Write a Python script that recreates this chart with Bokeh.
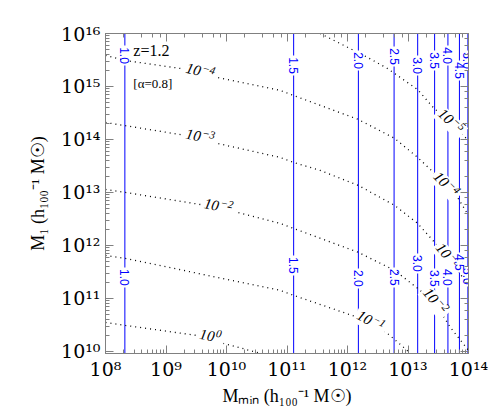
import math
import numpy as np
from bokeh.plotting import figure
from bokeh.models import LogAxis, Range1d, CustomJSTickFormatter
from bokeh.core.properties import value
from bokeh.embed import file_html
from bokeh.resources import INLINE

# ---------------- data ----------------
# vertical lines: log10(Mmin) and their labels
mmin_log = [8.32, 11.11, 12.18, 12.77, 13.16, 13.44, 13.66, 13.85, 13.99]
mmin_labels = ["1.0", "1.5", "2.0", "2.5", "3.0", "3.5", "4.0", "4.5", "5.0"]
mmin_label_hi_log = [15.585, 15.396, 15.491, 15.566, 15.396, 15.491, 15.585, 15.302, 15.491]
mmin_label_lo_log = [11.396, 11.623, 11.377, 11.396, 11.660, 11.377, 11.396, 11.679, 11.415]

# dotted contours: log10(Mmin), log10(M1)
c5_logx = [11.55, 12.33, 12.66, 13.16, 13.42, 13.70, 14.0]
c5_logy = [16.0, 15.55, 15.34, 14.94, 14.60, 14.32, 13.98]
c4_logx = [8.0, 8.33, 9.24, 9.57, 9.85, 10.89, 11.11, 12.18, 12.78, 13.16, 13.44, 13.62, 13.82, 14.0]
c4_logy = [15.585, 15.49, 15.34, 15.26, 15.17, 14.925, 14.83, 14.377, 14.02, 13.66, 13.358, 13.13, 12.906, 12.566]
c3_logx = [8.0, 8.33, 9.57, 9.85, 10.89, 11.11, 11.55, 12.18, 12.78, 13.16, 13.44, 13.65, 13.82, 14.0]
c3_logy = [14.32, 14.26, 14.03, 13.925, 13.66, 13.566, 13.415, 13.132, 12.755, 12.415, 12.057, 11.774, 11.528, 11.245]
c2_logx = [8.0, 8.33, 9.87, 10.89, 11.11, 12.18, 12.78, 13.16, 13.44, 13.70, 14.0]
c2_logy = [13.057, 13.0, 12.717, 12.415, 12.321, 11.868, 11.528, 11.189, 10.925, 10.453, 10.019]
c1_logx = [8.0, 8.33, 10.89, 11.11, 12.17, 12.38, 12.66, 12.93, 13.04]
c1_logy = [11.811, 11.755, 11.151, 11.057, 10.642, 10.547, 10.34, 10.075, 9.962]
c0_logx = [8.0, 8.33, 9.74, 9.95, 10.51, 10.6]
c0_logy = [10.547, 10.49, 10.264, 10.15, 9.98, 9.92]

curve_exps = ["−5", "−4", "−3", "−2", "−1", "0"]
curve_xs = [c5_logx, c4_logx, c3_logx, c2_logx, c1_logx, c0_logx]
curve_ys = [c5_logy, c4_logy, c3_logy, c2_logy, c1_logy, c0_logy]
curve_label_idx = [[5], [3, 11], [2, 11], [2, 8], [5], [2]]

X_LOG = (8.0, 14.0)
Y_LOG = (9.96, 16.0)

SERIF = "Liberation Serif"

# ---------------- figure ----------------
FW, FH = 363, 320
p = figure(x_axis_type="log", y_axis_type="log",
           x_range=Range1d(10 ** X_LOG[0], 10 ** X_LOG[1]),
           y_range=Range1d(10 ** Y_LOG[0], 10 ** Y_LOG[1]),
           frame_width=FW, frame_height=FH,
           min_border_left=105, min_border_top=33, min_border_right=20, min_border_bottom=0,
           output_backend="svg", toolbar_location=None)
p.grid.visible = False
p.outline_line_color = None
p.background_fill_color = "white"

fmt = CustomJSTickFormatter(code="""
const sup = {"0":"⁰","1":"¹","2":"²","3":"³","4":"⁴","5":"⁵","6":"⁶","7":"⁷","8":"⁸","9":"⁹","-":"⁻"};
const e = Math.round(Math.log10(tick));
return "10" + String(e).split("").map(c => sup[c]).join("");
""")

AX = "#808080"
def style(ax, labels=True):
    ax.major_tick_in = 8
    ax.major_tick_out = 0
    ax.minor_tick_in = 4
    ax.minor_tick_out = 0
    ax.axis_line_color = AX
    ax.major_tick_line_color = AX
    ax.minor_tick_line_color = AX
    if labels:
        ax.major_label_text_font = "DejaVu Serif"
        ax.major_label_text_font_size = "19px"
        ax.major_label_text_color = "black"
        ax.formatter = fmt
        ax.axis_label_text_font = SERIF
        ax.axis_label_text_font_size = "18px"
        ax.axis_label_text_font_style = "normal"
        ax.axis_label_text_color = "black"
    else:
        ax.major_label_text_color = None
        ax.major_label_standoff = 0

style(p.xaxis[0])
style(p.yaxis[0])
p.xaxis[0].axis_label = "Mₘᵢₙ (h₁₀₀⁻¹ M☉)"
p.yaxis[0].axis_label = "M₁ (h₁₀₀⁻¹ M☉)"
p.xaxis[0].major_label_standoff = 4
p.yaxis[0].major_label_standoff = 5
p.xaxis[0].axis_label_standoff = 3
p.yaxis[0].axis_label_standoff = 10

top_ax = LogAxis()
right_ax = LogAxis()
style(top_ax, labels=False)
style(right_ax, labels=False)
p.add_layout(top_ax, "above")
p.add_layout(right_ax, "right")

pxdx = FW / (X_LOG[1] - X_LOG[0])
pxdy = FH / (Y_LOG[1] - Y_LOG[0])

# vertical lines
mx = [10 ** v for v in mmin_log]
p.segment(x0=mx, x1=mx, y0=[10 ** Y_LOG[0]] * len(mx), y1=[10 ** Y_LOG[1]] * len(mx),
          line_color="blue", line_width=1)

# dotted contours with labels "10" + superscript exponent
for ex, lx, ly, idxs in zip(curve_exps, curve_xs, curve_ys, curve_label_idx):
    lx = np.array(lx); ly = np.array(ly)
    p.line(x=10 ** lx, y=10 ** ly, line_color="black", line_width=1.3, line_dash="1 4")
    w1, w2 = 15.0, 7.0 * len(ex)
    wt = w1 + w2 + 1
    for i in idxs:
        a = max(i - 1, 0); b = min(i + 1, len(lx) - 1)
        th = math.atan2((ly[b] - ly[a]) * pxdy, (lx[b] - lx[a]) * pxdx)
        d = (math.cos(th), -math.sin(th))   # text direction (screen, y down)
        up = (-math.sin(th), -math.cos(th))  # text "up" (screen, y down)
        p.rect(x=[10 ** lx[i]], y=[10 ** ly[i]], width=wt + 4, height=16,
               width_units="screen", height_units="screen", angle=th,
               fill_color="white", line_color=None)
        u1 = -wt / 2 + w1 / 2
        p.text(x=[10 ** lx[i]], y=[10 ** ly[i]], text=["10"], angle=th,
               x_offset=u1 * d[0] + 1.5 * up[0], y_offset=u1 * d[1] + 1.5 * up[1],
               text_font=value(SERIF), text_font_style="italic",
               text_font_size="15px", text_align="center", text_baseline="middle",
               text_color="black")
        u2 = -wt / 2 + w1 + 1
        p.text(x=[10 ** lx[i]], y=[10 ** ly[i]], text=[ex], angle=th,
               x_offset=u2 * d[0] + 5 * up[0], y_offset=u2 * d[1] + 5 * up[1],
               text_font=value(SERIF), text_font_style="italic",
               text_font_size="11px", text_align="left", text_baseline="middle",
               text_color="black")

# labels on vertical lines
for ys in (mmin_label_hi_log, mmin_label_lo_log):
    yy = [10 ** v for v in ys]
    p.rect(x=mx, y=yy, width=6, height=20, width_units="screen", height_units="screen",
           fill_color="white", line_color=None)
    p.text(x=mx, y=yy, text=mmin_labels, angle=-math.pi / 2,
           text_font=value("Liberation Sans"), text_font_size="12px",
           text_align="center", text_baseline="middle", text_color="blue")

# annotations
p.text(x=[10 ** 8.46], y=[10 ** 15.68], text=["z=1.2"],
       text_font=value(SERIF), text_font_size="16px",
       text_align="left", text_baseline="middle", text_color="black")
p.text(x=[10 ** 8.46], y=[10 ** 15.06], text=["[α=0.8]"],
       text_font=value(SERIF), text_font_size="13px",
       text_align="left", text_baseline="middle", text_color="black")

open("out.html", "w").write(file_html(p, INLINE))
